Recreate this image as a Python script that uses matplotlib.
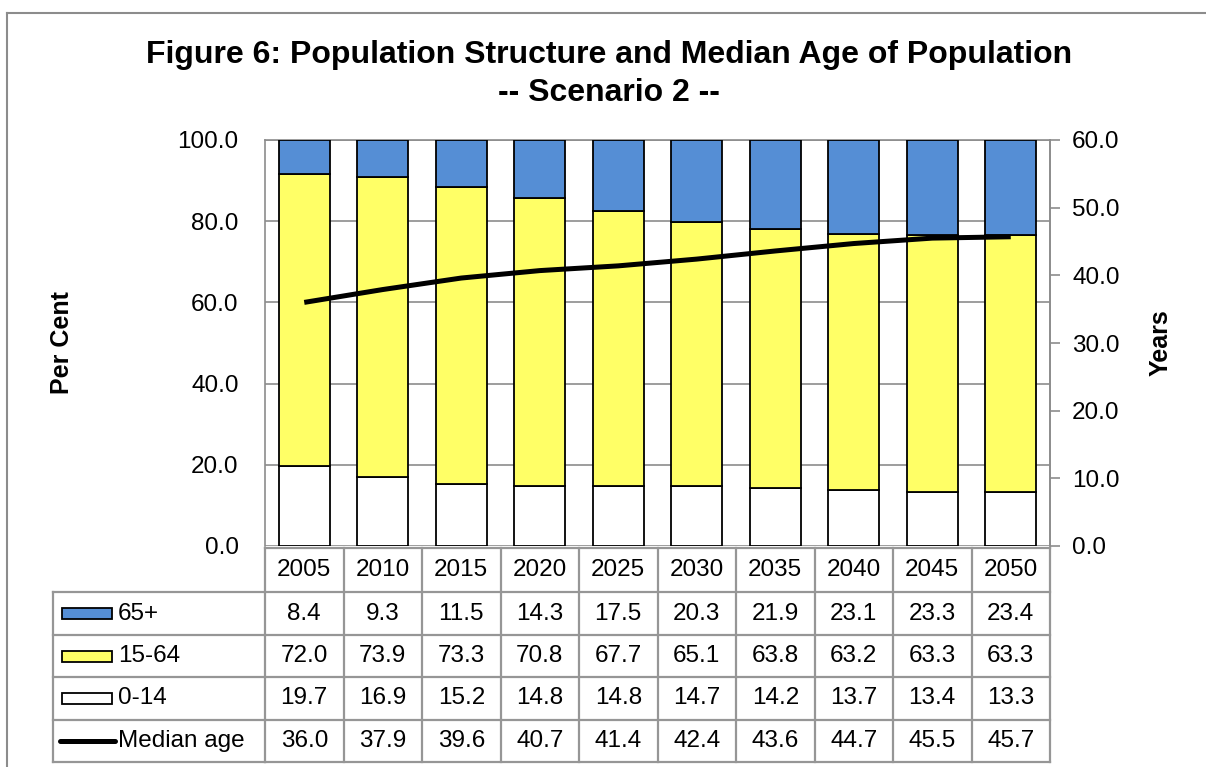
import matplotlib
matplotlib.use("Agg")
import matplotlib.pyplot as plt
import matplotlib.transforms as mtransforms
from matplotlib.lines import Line2D
from matplotlib.patches import Rectangle
import numpy as np

plt.rcParams["font.family"] = ["Liberation Sans", "DejaVu Sans"]

years = ["2005", "2010", "2015", "2020", "2025", "2030", "2035", "2040", "2045", "2050"]
age_65_plus = [8.4, 9.3, 11.5, 14.3, 17.5, 20.3, 21.9, 23.1, 23.3, 23.4]
age_15_64 = [72.0, 73.9, 73.3, 70.8, 67.7, 65.1, 63.8, 63.2, 63.3, 63.3]
age_0_14 = [19.7, 16.9, 15.2, 14.8, 14.8, 14.7, 14.2, 13.7, 13.4, 13.3]
median_age = [36.0, 37.9, 39.6, 40.7, 41.4, 42.4, 43.6, 44.7, 45.5, 45.7]

left_ticks = [0, 20, 40, 60, 80, 100]
right_ticks = [0, 10, 20, 30, 40, 50, 60]

BLUE = "#558ED5"
YELLOW = "#FFFF66"
GRID = "#8C8C8C"
TABLE = "#969696"

W, H = 1206, 767
fig = plt.figure(figsize=(W / 100, H / 100), dpi=100)
fig.patch.set_facecolor("white")

def fx(px):
    return px / W

def fy(py):
    return 1 - py / H

# plot area
x0, x1, y_top, y_bot = 265, 1050, 140, 546
ax = fig.add_axes([fx(x0), fy(y_bot), fx(x1 - x0), (y_bot - y_top) / H])
x = np.arange(len(years))
bw = 0.65

ax.bar(x, age_0_14, bw, color="white", edgecolor="black", linewidth=1.3, zorder=3)
ax.bar(x, age_15_64, bw, bottom=age_0_14, color=YELLOW, edgecolor="black", linewidth=1.3, zorder=3)
bottom2 = np.array(age_0_14) + np.array(age_15_64)
ax.bar(x, age_65_plus, bw, bottom=bottom2, color=BLUE, edgecolor="black", linewidth=1.3, zorder=3)

ax.set_xlim(-0.5, len(years) - 0.5)
ax.set_ylim(0, 100)
ax.set_yticks(left_ticks)
ax.set_yticklabels([f"{v:.1f}" for v in left_ticks], fontsize=17.5)
ax.tick_params(axis="y", length=0, pad=19)
ax.set_xticks([])
ax.yaxis.grid(True, color=GRID, linewidth=1.2, zorder=0)
ax.set_axisbelow(True)
for side in ["left", "top", "right"]:
    ax.spines[side].set_color(GRID)
    ax.spines[side].set_linewidth(1.2)
ax.spines["bottom"].set_visible(False)
ax.set_ylabel("Per Cent", fontsize=18, fontweight="bold", labelpad=0)
ax.yaxis.set_label_coords((74 - x0) / (x1 - x0), 0.5)

ax2 = ax.twinx()
ax2.plot(x, median_age, color="black", linewidth=3.6, solid_capstyle="butt", zorder=5)
ax2.set_ylim(0, 60)
ax2.set_yticks(right_ticks)
ax2.set_yticklabels([f"{v:.1f}" for v in right_ticks], fontsize=17.5)
ax2.tick_params(axis="y", length=7, width=1.2, color=GRID, pad=9)
for side in ["left", "top", "right", "bottom"]:
    ax2.spines[side].set_visible(False)
ax2.spines["right"].set_visible(True)
ax2.spines["right"].set_color(GRID)
ax2.spines["right"].set_linewidth(1.2)
ax2.set_ylabel("Years", fontsize=18, fontweight="bold", rotation=90)
ax2.yaxis.set_label_coords((1149 - x0) / (x1 - x0), 0.5)

# data table under the plot
trans = mtransforms.blended_transform_factory(ax.transData, fig.transFigure)
row_edges = [548, 592, 635, 677, 720, 762]
lab_left = 53

def hline(xa, xb, py, tr):
    fig.add_artist(Line2D([xa, xb], [fy(py), fy(py)], transform=tr, color=TABLE, linewidth=1.6))

def vline(xv, pa, pb, tr):
    fig.add_artist(Line2D([xv, xv], [fy(pa), fy(pb)], transform=tr, color=TABLE, linewidth=1.6))

n = len(years)
# year header row
hline(-0.5, n - 0.5, row_edges[0], trans)
for py in row_edges[1:]:
    hline(-0.5, n - 0.5, py, trans)
    hline(fx(lab_left), fx(x0), py, fig.transFigure)
for i in range(n + 1):
    vline(i - 0.5, row_edges[0], row_edges[-1], trans)
vline(fx(lab_left), row_edges[1], row_edges[-1], fig.transFigure)

rows = [age_65_plus, age_15_64, age_0_14, median_age]
row_names = ["65+", "15-64", "0-14", "Median age"]
row_fill = [BLUE, YELLOW, "white", None]

for i, yr in enumerate(years):
    yc = (row_edges[0] + row_edges[1]) / 2
    fig.text(i, fy(yc), yr, transform=trans, ha="center", va="center", fontsize=17.5)

for r, (vals, name, fill) in enumerate(zip(rows, row_names, row_fill)):
    yc = (row_edges[r + 1] + row_edges[r + 2]) / 2
    for i, v in enumerate(vals):
        fig.text(i, fy(yc), f"{v:.1f}", transform=trans, ha="center", va="center", fontsize=17.5)
    if fill is not None:
        fig.add_artist(Rectangle((fx(62), fy(yc + 5.5)), fx(50), 11 / H, transform=fig.transFigure,
                                 facecolor=fill, edgecolor="black", linewidth=1.3))
    else:
        fig.add_artist(Line2D([fx(60), fx(115)], [fy(yc), fy(yc)], transform=fig.transFigure,
                              color="black", linewidth=3.6, solid_capstyle="round"))
    fig.text(fx(118), fy(yc), name, ha="left", va="center", fontsize=17.5)

# title
fig.text(fx(609), fy(55), "Figure 6: Population Structure and Median Age of Population",
         ha="center", va="center", fontsize=23, fontweight="bold")
fig.text(fx(609), fy(93), "-- Scenario 2 --", ha="center", va="center", fontsize=23, fontweight="bold")

# chart frame
fig.add_artist(Line2D([fx(7), fx(7)], [fy(13), 0], transform=fig.transFigure, color="#8C8C8C", linewidth=1.5))
fig.add_artist(Line2D([fx(7), 1], [fy(13), fy(13)], transform=fig.transFigure, color="#8C8C8C", linewidth=1.5))

fig.savefig("out.png", dpi=100, facecolor="white")
